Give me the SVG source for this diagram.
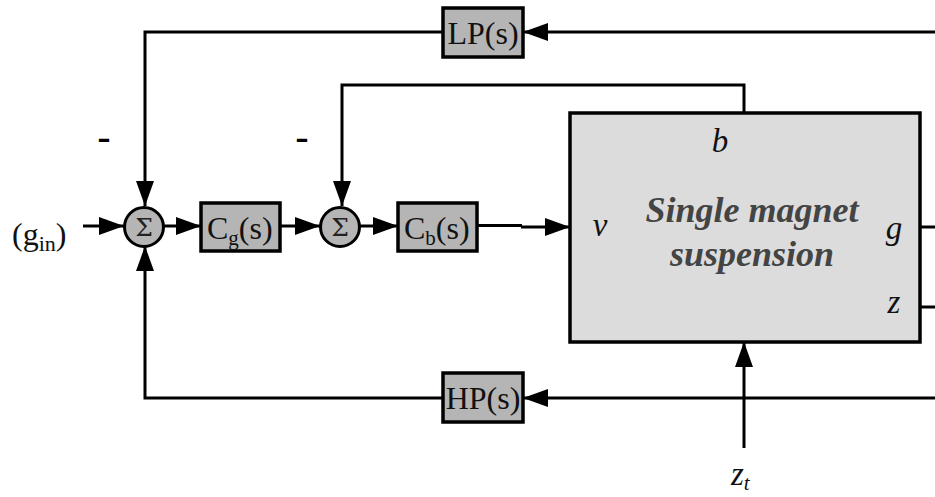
<svg xmlns="http://www.w3.org/2000/svg" width="935" height="497" viewBox="0 0 935 497">
<defs>
<marker id="ah" markerUnits="userSpaceOnUse" markerWidth="26" markerHeight="18" refX="25" refY="9" orient="auto">
<path d="M0,0 L25,9 L0,18 z" fill="#000"/>
</marker>
<style>
.ln{fill:none;stroke:#000;stroke-width:3}
.arr{fill:none;stroke:#000;stroke-width:3;marker-end:url(#ah)}
.blk{fill:#b5b5b5;stroke:#000;stroke-width:3.5}
.sum{fill:#b5b5b5;stroke:#000;stroke-width:3}
.tx{font-family:"Liberation Serif",serif;font-size:32px;fill:#111}
.it{font-family:"Liberation Serif",serif;font-style:italic;font-size:33px;fill:#111}
.pl{font-family:"Liberation Serif",serif;font-style:italic;font-weight:bold;font-size:36px;fill:#444}
.sg{font-family:"DejaVu Serif",serif;font-size:25px;fill:#222}
</style>
</defs>
<rect width="935" height="497" fill="#fff"/>
<g id="connectors">
<path class="arr" d="M83,226 H124"/>
<path class="arr" d="M164,226 H201"/>
<path class="arr" d="M280,226 H320"/>
<path class="arr" d="M360,226 H398"/>
<path class="ln" d="M477,225.5 H522"/>
<path class="arr" d="M521,227 H570"/>
<path class="arr" d="M744,113 V85 H342 V206"/>
<path class="arr" d="M935,32 H523"/>
<path class="arr" d="M443,32 H145 V206"/>
<path class="arr" d="M935,398 H523"/>
<path class="arr" d="M443,398 H145 V246"/>
<path class="arr" d="M744,448 V342"/>
<path class="ln" d="M920,227 H935"/>
<path class="ln" d="M920,307 H935"/>
</g>
<g id="input"><text class="tx" x="12" y="245">(g<tspan font-size="22" dy="6">in</tspan><tspan dy="-6">)</tspan></text></g>
<g id="minus1"><text x="104" y="152" font-family="Liberation Sans,sans-serif" font-size="42" text-anchor="middle" fill="#000">-</text></g>
<g id="minus2"><text x="302" y="152" font-family="Liberation Sans,sans-serif" font-size="42" text-anchor="middle" fill="#000">-</text></g>
<g id="sum1"><circle class="sum" cx="144" cy="227" r="19.5"/><text class="sg" x="144" y="236" text-anchor="middle">Σ</text></g>
<g id="sum2"><circle class="sum" cx="340" cy="227" r="19.5"/><text class="sg" x="340" y="236" text-anchor="middle">Σ</text></g>
<g id="Cg"><rect class="blk" x="201" y="203" width="79" height="48"/><text class="tx" x="207" y="239">C<tspan font-size="21" dy="6">g</tspan><tspan dy="-6">(s)</tspan></text></g>
<g id="Cb"><rect class="blk" x="398" y="203" width="79" height="48"/><text class="tx" x="404" y="239">C<tspan font-size="21" dy="6">b</tspan><tspan dy="-6">(s)</tspan></text></g>
<g id="LP"><rect class="blk" x="443" y="8" width="80" height="49"/><text class="tx" x="483" y="44" text-anchor="middle">LP(s)</text></g>
<g id="HP"><rect class="blk" x="443" y="373" width="80" height="49"/><text class="tx" x="483" y="409" text-anchor="middle">HP(s)</text></g>
<g id="plant">
<rect x="570" y="113" width="350" height="229" fill="#dcdcdc" stroke="#000" stroke-width="3.5"/>
<text class="pl" x="752" y="222" text-anchor="middle">Single magnet</text>
<text class="pl" x="752" y="266" text-anchor="middle">suspension</text>
<text class="it" x="720" y="152" text-anchor="middle">b</text>
<text class="it" x="600" y="236" text-anchor="middle">v</text>
<text class="it" x="894" y="239" text-anchor="middle">g</text>
<text class="it" x="894" y="313" text-anchor="middle">z</text>
</g>
<g id="zt"><text class="it" x="731" y="485">z<tspan font-size="21" dy="5">t</tspan></text></g>
</svg>
